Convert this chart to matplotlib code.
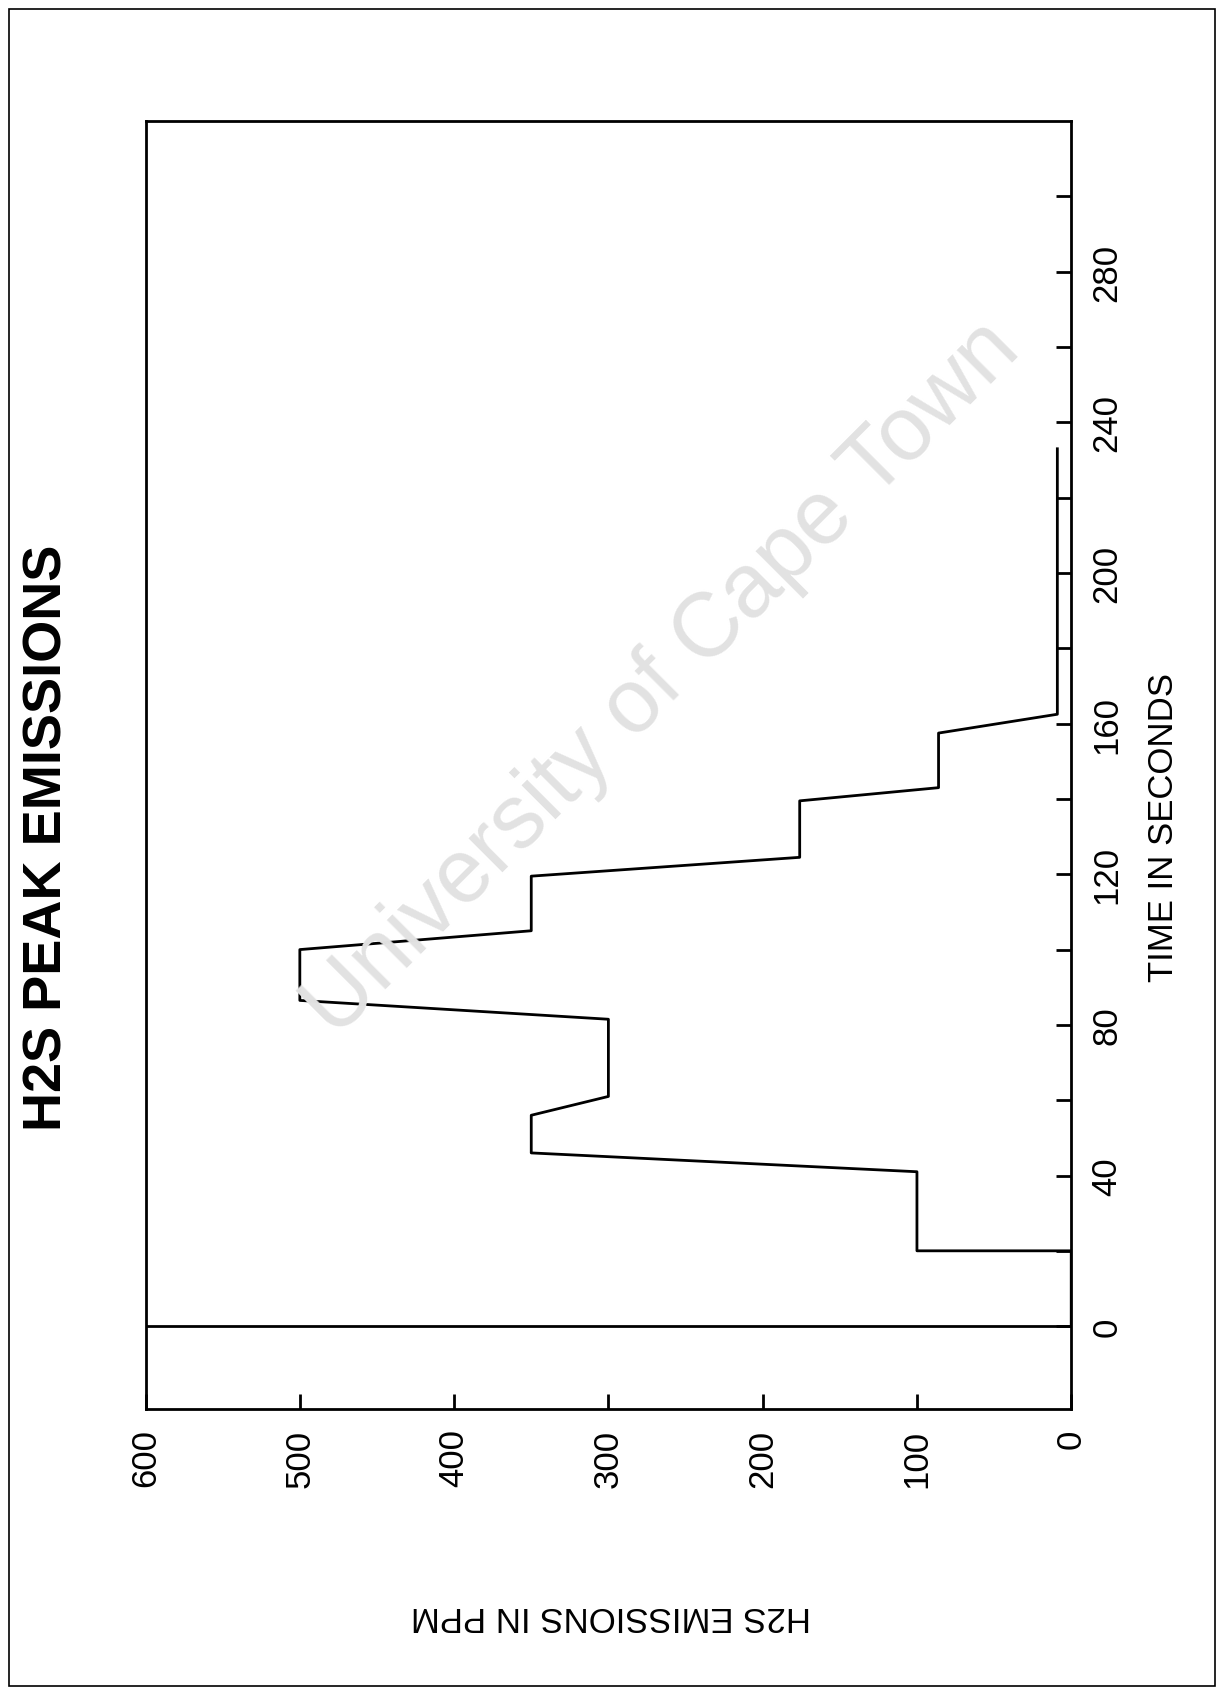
import matplotlib
matplotlib.use("Agg")
import matplotlib.pyplot as plt
from matplotlib.patches import Rectangle

# step trace (time in s, H2S in ppm)
time_s = [0, 20, 20, 41, 46, 56, 61, 81.5, 86.5, 100, 105, 119.5, 124.5,
          139.5, 143, 157.5, 162.5, 233]
h2s_ppm = [0, 0, 100, 100, 350, 350, 300, 300, 500, 500, 350, 350, 176,
           176, 86, 86, 9, 9]

ppm_ticks = [0, 100, 200, 300, 400, 500, 600]
time_major = [0, 40, 80, 120, 160, 200, 240, 280]
time_minor = [20, 60, 100, 140, 180, 220, 260, 300]

plt.rcParams['font.family'] = ['Liberation Sans', 'DejaVu Sans']

fig = plt.figure(figsize=(12.18, 16.90), dpi=100)
ax = fig.add_axes([0.1195, 0.1657, 0.7600, 0.7620])

# chart is printed sideways: ppm runs along the bottom, time up the right
ax.plot(h2s_ppm, time_s, color='black', lw=2.0)
ax.axhline(0, color='black', lw=2.0)

ax.set_xlim(600, 0)
ax.set_ylim(-22, 320)

ax.set_xticks(ppm_ticks)
ax.set_xticklabels([str(v) for v in ppm_ticks], rotation=90, fontsize=25)
ax.yaxis.tick_right()
ax.set_yticks(time_major)
ax.set_yticks(time_minor, minor=True)
ax.set_yticklabels([str(v) for v in time_major], rotation=90, fontsize=25,
                   va='center')
ax.tick_params(axis='both', which='both', direction='in', length=11,
               width=2, pad=14)
ax.tick_params(axis='y', which='both', left=False, right=True)

for s in ax.spines.values():
    s.set_linewidth(2.0)

ax.set_ylabel('TIME IN SECONDS', fontsize=25, rotation=90)
ax.yaxis.set_label_position('right')
ax.yaxis.set_label_coords(1.082, 0.452)

ax.text(0.503, -0.16, 'H2S EMISSIONS IN PPM', transform=ax.transAxes,
        rotation=180, fontsize=25, ha='center', va='center')

fig.text(48 / 1218, 1 - 838 / 1690, 'H2S PEAK EMISSIONS', rotation=90,
         fontsize=39, fontweight='bold', ha='center', va='center')

# library watermark
fig.text(662 / 1218, 1 - 679 / 1690, 'University of Cape Town', rotation=45,
         fontsize=65, color='#e2e2e2', ha='center', va='center', zorder=0)

fig.patches.append(Rectangle((9 / 1218, 3 / 1690), 1206 / 1218, 1677 / 1690,
                             transform=fig.transFigure, fill=False,
                             edgecolor='black', lw=1.2))

fig.savefig('out.png', dpi=100)
